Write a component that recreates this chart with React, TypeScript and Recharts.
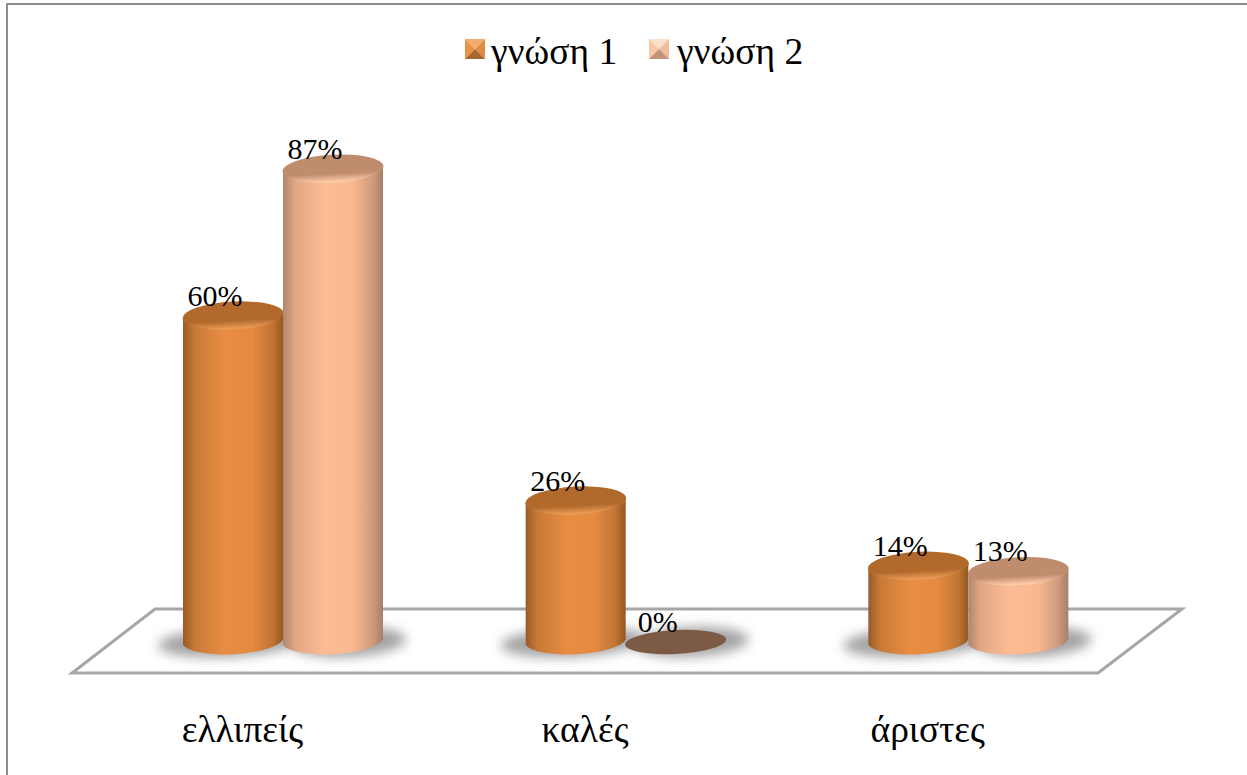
import React from "react";
import { BarChart, Bar, XAxis, YAxis, LabelList, Legend } from "recharts";

const categories = ["ελλιπείς", "καλές", "άριστες"];
const gnosi1 = [60, 26, 14];
const gnosi2 = [87, 0, 13];
const seriesNames = ["γνώση 1", "γνώση 2"];

const data = categories.map((name, i) => ({ name, s1: gnosi1[i], s2: gnosi2[i] }));

const SERIF = '"Liberation Serif", "Times New Roman", serif';
const palette = {
  s1: { stops: ["#99592a", "#c97a36", "#e98d43", "#e48a41", "#bf7433", "#94561f"], top: "#b1692c", rim: "#ea9a55", zero: "#7d5a45" },
  s2: { stops: ["#b0866d", "#e0a784", "#fdbc94", "#f8b890", "#cf9a7b", "#a67f69"], top: "#c08c6e", rim: "#fdcaa8", zero: "#7d5a45" },
};

const TILT = -3;

const Cylinder = (kind: "s1" | "s2") => (props: any) => {
  const { x, y, width, height } = props;
  const p = palette[kind];
  const cx = x + width / 2;
  const rx = width / 2 + 0.5;
  const ry = 14;
  const bottom = y + height;
  const shadowCx = kind === "s1" ? cx - 3 : cx + 16;
  const shadowRx = kind === "s1" ? 72 : 57;
  const d = 2.8;
  return (
    <g>
      <ellipse
        cx={shadowCx}
        cy={bottom}
        rx={shadowRx}
        ry={15}
        fill="#8c8c8c"
        opacity={0.8}
        filter="url(#soft)"
        transform={`rotate(${TILT} ${shadowCx} ${bottom})`}
      />
      {height > 0 ? (
        <>
          <path
            d={`M${x},${y + d} L${x},${bottom + d} A${rx},${ry} ${TILT} 0 0 ${x + width},${bottom - d} L${x + width},${y - d} Z`}
            fill={`url(#body-${kind})`}
          />
          <ellipse cx={cx} cy={y} rx={rx} ry={ry} transform={`rotate(${TILT} ${cx} ${y})`} fill={`url(#top-${kind})`} />
        </>
      ) : (
        <ellipse cx={cx} cy={y} rx={rx} ry={12} transform={`rotate(${TILT} ${cx} ${y})`} fill={p.zero} />
      )}
    </g>
  );
};

const PctLabel = (props: any) => {
  const { x, y, width, value } = props;
  return (
    <text x={x + width / 2 - 18} y={y - 10} textAnchor="middle" fontFamily={SERIF} fontSize={30} fill="#000">
      {`${value}%`}
    </text>
  );
};

const LegendSwatch = ({ kind }: { kind: "s1" | "s2" }) => {
  const c =
    kind === "s1"
      ? { t: "#f2ad70", l: "#e8924a", r: "#e08a42", b: "#a9672f" }
      : { t: "#fde0cc", l: "#f8c8a8", r: "#f0bd9c", b: "#c29378" };
  return (
    <svg width={20} height={20} style={{ display: "block", flex: "none" }}>
      <polygon points="0,0 20,0 10,10" fill={c.t} />
      <polygon points="0,0 0,20 10,10" fill={c.l} />
      <polygon points="20,0 20,20 10,10" fill={c.r} />
      <polygon points="0,20 20,20 10,10" fill={c.b} />
    </svg>
  );
};

const LegendContent = () => (
  <div
    style={{
      position: "absolute",
      left: 465,
      top: 24,
      display: "flex",
      alignItems: "center",
      fontFamily: SERIF,
      fontSize: 37.5,
      color: "#000",
      whiteSpace: "nowrap",
      lineHeight: "50px",
    }}
  >
    <LegendSwatch kind="s1" />
    <span style={{ marginLeft: 6, width: 158, position: "relative", top: 3 }}>{seriesNames[0]}</span>
    <LegendSwatch kind="s2" />
    <span style={{ marginLeft: 8, position: "relative", top: 3 }}>{seriesNames[1]}</span>
  </div>
);

const gradient = (id: string, s: string[]) => (
  <linearGradient id={id} x1="0" y1="0" x2="1" y2="0">
    {[0, 0.12, 0.42, 0.7, 0.9, 1].map((o, i) => (
      <stop key={o} offset={o} stopColor={s[i]} />
    ))}
  </linearGradient>
);

const topGradient = (id: string, dark: string, rim: string) => (
  <linearGradient id={id} x1="0" y1="0" x2="0" y2="1">
    <stop offset="0" stopColor={dark} />
    <stop offset="0.68" stopColor={dark} />
    <stop offset="0.96" stopColor={rim} />
    <stop offset="1" stopColor={rim} />
  </linearGradient>
);

export default function App() {
  return (
    <div style={{ position: "absolute", left: 0, top: 0, width: 1247, height: 775, background: "#fff", overflow: "hidden" }}>
      <div style={{ position: "absolute", left: 6, top: 3, width: 1300, height: 800, border: "2.5px solid #8e8e8e", boxSizing: "border-box" }} />
      <svg width={1247} height={775} style={{ position: "absolute", left: 0, top: 0 }}>
        <polygon points="155,609 1182,609 1098,673 72,673" fill="#fff" stroke="#a6a6a6" strokeWidth={3} />
      </svg>
      <div style={{ position: "absolute", left: 0, top: 0 }}>
        <BarChart
          width={1247}
          height={775}
          data={data}
          barCategoryGap={71}
          barGap={0}
          margin={{ top: 98, right: 107, bottom: 0, left: 112 }}
        >
          <defs>
            {gradient("body-s1", palette.s1.stops)}
            {gradient("body-s2", palette.s2.stops)}
            {topGradient("top-s1", palette.s1.top, palette.s1.rim)}
            {topGradient("top-s2", palette.s2.top, palette.s2.rim)}
            <filter id="soft" x="-30%" y="-80%" width="160%" height="260%">
              <feGaussianBlur stdDeviation="6" />
            </filter>
          </defs>
          <XAxis
            dataKey="name"
            axisLine={false}
            tickLine={false}
            tickMargin={67}
            tick={{ fontFamily: SERIF, fontSize: 37.5, fill: "#000", dx: -41 }}
            interval={0}
            height={133}
          />
          <YAxis hide domain={[0, 100]} />
          <Legend content={<LegendContent />} wrapperStyle={{ position: "absolute", left: 0, top: 0, width: 0, height: 0 }} />
          <Bar dataKey="s1" name={seriesNames[0]} isAnimationActive={false} shape={Cylinder("s1")}>
            <LabelList dataKey="s1" content={PctLabel} />
          </Bar>
          <Bar dataKey="s2" name={seriesNames[1]} isAnimationActive={false} shape={Cylinder("s2")}>
            <LabelList dataKey="s2" content={PctLabel} />
          </Bar>
        </BarChart>
      </div>
    </div>
  );
}
